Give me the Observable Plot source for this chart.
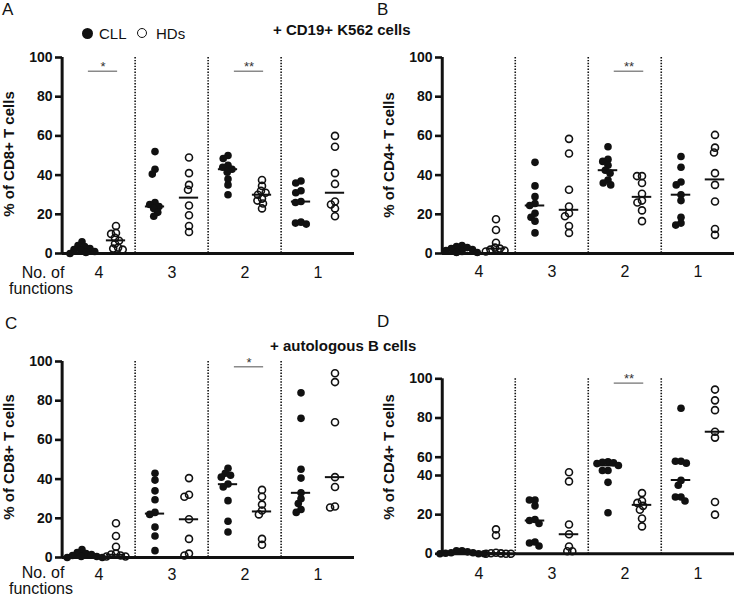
<!DOCTYPE html>
<html><head><meta charset="utf-8">
<script src="https://cdn.jsdelivr.net/npm/d3@7"></script>
<script src="https://cdn.jsdelivr.net/npm/@observablehq/plot@0.6"></script>
<style>
html,body{margin:0;padding:0;background:#fff;}
#fig{position:relative;width:738px;height:598px;overflow:hidden;font-family:"Liberation Sans",Arial,Helvetica,sans-serif;color:#111;}
.pnl{position:absolute;}
.t{position:absolute;white-space:nowrap;}
.dotk{position:absolute;border-radius:50%;box-sizing:border-box;}
</style></head><body><div id="fig"></div>
<script>
// ---------- data ----------
const groups = [4, 3, 2, 1];            // No. of functions
const Y_TICKS = [0, 20, 40, 60, 80, 100];

// A: % of CD8+ T cells, + CD19+ K562 cells (one inner list per group 4,3,2,1)
const A_CLL = [[6, 4, 3.5, 2.5, 2, 1.5, 1, 0.5, 0], [52, 43, 40.5, 26, 25, 24, 23, 21, 19], [50, 48.5, 45, 44, 43, 41.5, 38, 35, 30], [37, 36, 32, 31, 26.5, 26, 16, 15.5, 15]];
const A_HD  = [[14, 10.5, 10, 8, 6.5, 5, 3, 2.5, 2], [49, 41, 35, 32.5, 24.5, 19.5, 14, 11], [37.5, 34.5, 32, 31, 30, 28, 27, 25.5, 23], [60, 54.5, 41, 35.5, 26.5, 25, 23, 19]];
const A_CLL_MED = [1.7, 24, 43, 26.5];
const A_HD_MED  = [6.7, 28.5, 30, 31];
const A_SIG_GROUPS = [4, 2];
const A_SIG_LABELS = ["*", "**"];

// B: % of CD4+ T cells, + CD19+ K562 cells
const B_CLL = [[4, 3.5, 3, 2.5, 2, 1.5, 1, 0.5, 0.5], [46.5, 34.5, 29, 25.5, 24.5, 20.5, 18.5, 16.5, 10.5], [54.5, 48, 47, 45, 42.5, 41, 37.5, 36, 35], [49.5, 44, 36.5, 35, 30, 27, 18.5, 15.5, 14.5]];
const B_HD  = [[17.5, 12, 5.5, 3, 2.5, 2, 1.5, 1], [58.5, 51, 32.5, 24, 20.5, 19, 14, 10.5], [39.5, 39.5, 36, 30.5, 27, 26, 22, 16.5], [60.5, 54, 51.5, 41, 35, 26.5, 12.5, 9.5]];
const B_CLL_MED = [2, 24.5, 42.5, 30];
const B_HD_MED  = [2.5, 22.3, 28.9, 37.8];
const B_SIG_GROUPS = [2];
const B_SIG_LABELS = ["**"];

// C: % of CD8+ T cells, + autologous B cells
const C_CLL = [[4, 2.5, 2, 1.5, 1, 0.5, 0.5, 0, 0], [43, 39.5, 34, 29.5, 23, 22, 15.5, 11, 3.5], [45.5, 43, 42, 41, 37.5, 36, 29, 18.5, 13], [84, 71, 45, 40.5, 33, 30, 27.5, 24.5, 23]];
const C_HD  = [[17.5, 11, 5.5, 2, 1.5, 1, 0.5, 0.5], [40.5, 32, 31, 19.5, 9.5, 2, 1], [34.5, 31, 27, 24, 22, 9.5, 6.5], [94, 89.5, 69, 41, 36, 26, 25.5]];
const C_CLL_MED = [1, 22.4, 37.4, 33];
const C_HD_MED  = [1.4, 19.5, 23.5, 41];
const C_SIG_GROUPS = [2];
const C_SIG_LABELS = ["*"];

// D: % of CD4+ T cells, + autologous B cells (axis compressed between 40 and 60)
const D_CLL = [[1.5, 1.5, 1, 0.5, 0.5, 0.3, 0, 0, 0], [27.5, 27.5, 24.5, 17.5, 17, 15.5, 6, 5.5, 4], [55, 54.5, 54, 53, 51, 45.5, 45.5, 36.5, 21], [85, 55.5, 55.5, 53.5, 37.5, 35, 29, 29, 27]];
const D_HD  = [[12.5, 9.5, 0.5, 0.3, 0.2, 0, 0, 0], [43.5, 37, 15, 10, 3.7, 1.3, 1.3], [31, 27, 26, 24.5, 22.5, 18, 14], [94.5, 89, 84, 73, 70, 26.5, 20]];
const D_CLL_MED = [0.4, 17, 51, 37.7];
const D_HD_MED  = [0.3, 10, 25, 73];
const D_SIG_GROUPS = [2];
const D_SIG_LABELS = ["**"];

// ---------- drawing ----------
const FONT = '"Liberation Sans", Arial, Helvetica, sans-serif';
const fig = document.getElementById("fig");

function makePanel(cfg) {
  const {cll, hd, cllMed, hdMed, sigGroups, sigLabels, sigY, yBreak,
         width, height, ml, mr, mt, mb, fxPad} = cfg;
  const bw = (width - ml - mr) / groups.length;
  const off = 17;
  const rows = (arr) => groups.flatMap((g, i) => arr[i].map(v => ({group: g, value: v})));
  const meds = (arr) => groups.map((g, i) => ({group: g, value: arr[i]}));
  const sig = sigGroups.map((g, i) => ({group: g, label: sigLabels[i]}));
  const medInset = (bw - 20) / 2;
  const sigInset = (bw - 30) / 2;
  const yOpts = {type: "linear", domain: [0, 100]};
  let axisTicks = Y_TICKS, axisFormat = d => String(d);
  if (yBreak) {
    yOpts.transform = v => yBreak(v);
    axisTicks = Y_TICKS.map(yBreak);
    axisFormat = d => String(Math.round(yBreak.invert(d)));
  }
  return Plot.plot({
    width, height, marginLeft: ml, marginRight: mr, marginTop: mt, marginBottom: mb,
    style: {fontFamily: FONT, background: "transparent", overflow: "visible", color: "#111"},
    fx: {domain: groups, padding: 0, label: null},
    y: yOpts,
    marks: [
      Plot.ruleX(groups.slice(1), {fx: d => d, x: null, dx: -bw / 2, stroke: "#111", strokeWidth: 1.6, strokeDasharray: "1.4,1.5"}),
      Plot.ruleY(sig, {fx: "group", y: sigY, dx: 4, insetLeft: sigInset, insetRight: sigInset, stroke: "#777", strokeWidth: 1.3}),
      Plot.text(sig, {fx: "group", y: sigY, dx: 4, text: "label", lineAnchor: "bottom", fontSize: 13, fill: "#333"}),
      Plot.tickY(meds(cllMed), {fx: "group", y: "value", dx: -off, insetLeft: medInset, insetRight: medInset, stroke: "#111", strokeWidth: 2}),
      Plot.tickY(meds(hdMed), {fx: "group", y: "value", dx: off, insetLeft: medInset, insetRight: medInset, stroke: "#111", strokeWidth: 2}),
      Plot.dot(rows(cll), Plot.dodgeX({anchor: "middle", padding: -2}, {fx: "group", y: "value", r: 3.8, fill: "#111", dx: -off})),
      Plot.dot(rows(hd), Plot.dodgeX({anchor: "middle", padding: -2}, {fx: "group", y: "value", r: 3.5, fill: "none", stroke: "#111", strokeWidth: 1.6, dx: off})),
      Plot.ruleY([0], {stroke: "#111", strokeWidth: 3}),
      Plot.ruleX([groups[0]], {fx: d => d, x: null, dx: -bw / 2, stroke: "#111", strokeWidth: 3}),
      Plot.axisY({ticks: axisTicks, tickFormat: axisFormat, anchor: "left", tickSize: 7, tickPadding: 3, strokeWidth: 2.6, fontSize: 14, fontWeight: "bold", label: null, fill: "#111"}),
      Plot.axisFx({anchor: "bottom", tickSize: 0, tickPadding: fxPad, fontSize: 16, label: null})
    ]
  });
}

function place(node, left, top) {
  const d = document.createElement("div");
  d.className = "pnl"; d.style.left = left + "px"; d.style.top = top + "px";
  d.appendChild(node); fig.appendChild(d);
}
function txt(s, x, base, size, weight = "normal", anchor = "start") {
  const d = document.createElement("div");
  d.className = "t"; d.textContent = s;
  d.style.left = x + "px"; d.style.top = (base - 0.8465 * size) + "px";
  d.style.fontSize = size + "px"; d.style.lineHeight = size + "px"; d.style.fontWeight = weight;
  if (anchor === "middle") d.style.transform = "translateX(-50%)";
  fig.appendChild(d);
}
function vtxt(s, cx, cy, size, weight = "bold") {
  const d = document.createElement("div");
  d.className = "t"; d.textContent = s;
  d.style.left = cx + "px"; d.style.top = cy + "px";
  d.style.fontSize = size + "px"; d.style.lineHeight = size + "px"; d.style.fontWeight = weight;
  d.style.transform = "translate(-50%,-50%) rotate(-90deg)";
  fig.appendChild(d);
}
function keyDot(cx, cy, r, filled) {
  const d = document.createElement("div");
  d.className = "dotk";
  d.style.left = (cx - r) + "px"; d.style.top = (cy - r) + "px";
  d.style.width = 2 * r + "px"; d.style.height = 2 * r + "px";
  if (filled) d.style.background = "#111"; else d.style.border = "1.3px solid #111";
  fig.appendChild(d);
}

// panel D's axis is drawn with the 40–60 interval compressed
const dBreak = d3.scaleLinear().domain([0, 40, 60, 100]).range([0, 44.74, 55.2, 100]);

place(makePanel({cll: A_CLL, hd: A_HD, cllMed: A_CLL_MED, hdMed: A_HD_MED, sigGroups: A_SIG_GROUPS, sigLabels: A_SIG_LABELS,
  sigY: 93, width: 369, height: 250, ml: 60, mr: 14, mt: 17, mb: 37, fxPad: 13}), 0, 40);
place(makePanel({cll: B_CLL, hd: B_HD, cllMed: B_CLL_MED, hdMed: B_HD_MED, sigGroups: B_SIG_GROUPS, sigLabels: B_SIG_LABELS,
  sigY: 93, width: 369, height: 250, ml: 72, mr: 3, mt: 17, mb: 37, fxPad: 12}), 369, 40);
place(makePanel({cll: C_CLL, hd: C_HD, cllMed: C_CLL_MED, hdMed: C_HD_MED, sigGroups: C_SIG_GROUPS, sigLabels: C_SIG_LABELS,
  sigY: 97.3, width: 369, height: 258, ml: 60, mr: 14, mt: 21, mb: 41, fxPad: 11}), 0, 340);
place(makePanel({cll: D_CLL, hd: D_HD, cllMed: D_CLL_MED, hdMed: D_HD_MED, sigGroups: D_SIG_GROUPS, sigLabels: D_SIG_LABELS,
  sigY: 97.8, yBreak: dBreak, width: 369, height: 258, ml: 72, mr: 3, mt: 38.3, mb: 44.7, fxPad: 14}), 369, 340);

// panel letters
txt("A", 2, 15, 17); txt("B", 377, 15, 17); txt("C", 5, 329, 17); txt("D", 377, 327, 17);
// legend
keyDot(87.3, 33.3, 5.8, true); txt("CLL", 99, 38.3, 15);
keyDot(142.3, 33.3, 5, false); txt("HDs", 156, 38.3, 15);
// condition titles
txt("+ CD19+ K562 cells", 273, 35, 15, "bold");
txt("+ autologous B cells", 270, 350.5, 15, "bold");
// x titles
txt("No. of", 43, 278.3, 16, "normal", "middle"); txt("functions", 41, 295, 16, "normal", "middle");
txt("No. of", 43, 579, 16, "normal", "middle"); txt("functions", 41, 594.5, 16, "normal", "middle");
// y titles
vtxt("% of CD8+ T cells", 8, 154, 15); vtxt("% of CD4+ T cells", 388, 155, 15);
vtxt("% of CD8+ T cells", 8, 457, 15); vtxt("% of CD4+ T cells", 388, 457, 15);
</script></body></html>
